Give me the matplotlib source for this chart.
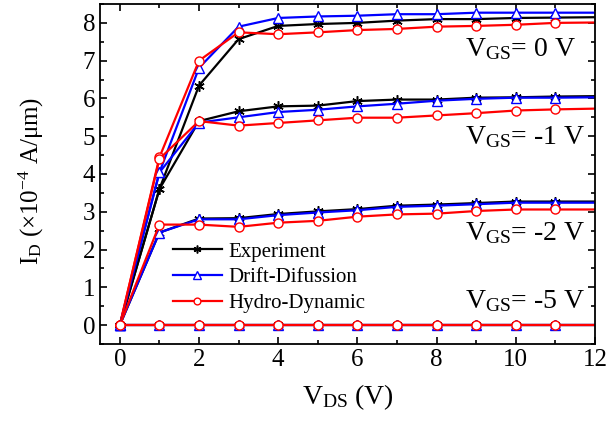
import matplotlib
matplotlib.use("Agg")
import matplotlib.pyplot as plt
from matplotlib.ticker import MultipleLocator

plt.rcParams["font.family"] = ["Liberation Serif", "DejaVu Serif"]
plt.rcParams["mathtext.fontset"] = "custom"
plt.rcParams["mathtext.rm"] = "Liberation Serif"
plt.rcParams["mathtext.it"] = "Liberation Serif:italic"

# Drain voltage (V); lines run to 12 V, markers stop at 11 V
vds = [0, 1, 2, 3, 4, 5, 6, 7, 8, 9, 10, 11, 12]

# Drain current (x1e-4 A/um) for each gate voltage
exp_0 = [0, 3.60, 6.34, 7.57, 7.92, 7.97, 8.00, 8.06, 8.10, 8.10, 8.13, 8.14, 8.15]
dd_0 = [0, 4.04, 6.81, 7.90, 8.13, 8.17, 8.19, 8.23, 8.23, 8.27, 8.27, 8.27, 8.27]
hd_0 = [0, 4.44, 7.00, 7.75, 7.70, 7.75, 7.81, 7.84, 7.90, 7.92, 7.95, 8.00, 8.01]

exp_1 = [0, 3.60, 5.40, 5.66, 5.79, 5.81, 5.93, 5.97, 5.97, 6.02, 6.03, 6.05, 6.06]
dd_1 = [0, 4.04, 5.36, 5.50, 5.64, 5.70, 5.79, 5.86, 5.94, 5.99, 6.02, 6.02, 6.03]
hd_1 = [0, 4.40, 5.40, 5.28, 5.35, 5.42, 5.49, 5.49, 5.55, 5.61, 5.68, 5.71, 5.73]

exp_2 = [0, 2.45, 2.82, 2.83, 2.94, 3.01, 3.07, 3.16, 3.19, 3.23, 3.27, 3.27, 3.27]
dd_2 = [0, 2.45, 2.80, 2.80, 2.91, 2.98, 3.04, 3.13, 3.16, 3.20, 3.24, 3.24, 3.24]
hd_2 = [0, 2.66, 2.66, 2.60, 2.71, 2.76, 2.87, 2.93, 2.95, 3.02, 3.06, 3.06, 3.06]

exp_5 = [0] * 13
dd_5 = [0] * 13
hd_5 = [0] * 13

labels = ["Experiment", "Drift-Difussion", "Hydro-Dynamic"]
vgs_text = [r"V$_\mathregular{GS}$= 0 V", r"V$_\mathregular{GS}$= -1 V",
            r"V$_\mathregular{GS}$= -2 V", r"V$_\mathregular{GS}$= -5 V"]
vgs_text_y = [7.13, 4.80, 2.24, 0.44]

styles = [
    dict(color="black", marker=(6, 2, 0), markersize=7.5, markeredgewidth=1.1),
    dict(color="#0000ff", marker="^", markersize=7, markerfacecolor="white", markeredgewidth=1.0),
    dict(color="#ff0000", marker="o", markersize=6.5, markerfacecolor="white", markeredgewidth=1.0),
]

curves = [
    [exp_0, dd_0, hd_0],
    [exp_1, dd_1, hd_1],
    [exp_2, dd_2, hd_2],
    [exp_5, dd_5, hd_5],
]

fig = plt.figure(figsize=(6.08, 4.21), dpi=100)
ax = fig.add_axes([0.1645, 0.183, 0.8141, 0.8075])

for group in curves:
    for i, ys in enumerate(group):
        ax.plot(vds, ys, linewidth=1.6, markevery=list(range(12)),
                label=labels[i] if group is curves[0] else None, **styles[i])

for txt, ty in zip(vgs_text, vgs_text_y):
    ax.text(8.71, ty, txt, fontsize=20, ha="left", va="baseline")

ax.set_xlim(-0.5, 12)
ax.set_ylim(-0.5, 8.5)
ax.xaxis.set_major_locator(MultipleLocator(2))
ax.xaxis.set_minor_locator(MultipleLocator(1))
ax.yaxis.set_major_locator(MultipleLocator(1))
ax.yaxis.set_minor_locator(MultipleLocator(0.5))
ax.tick_params(which="both", direction="in", top=True, right=True, width=1.2, labelsize=18)
ax.tick_params(which="major", length=5)
ax.tick_params(which="minor", length=3)
for sp in ax.spines.values():
    sp.set_linewidth(1.3)

ax.set_xlabel(r"V$_\mathregular{DS}$ (V)", fontsize=20, labelpad=8)
ax.set_ylabel(r"I$_\mathregular{D}$ (×10$^\mathregular{-4}$ A/μm)", fontsize=18)
ax.yaxis.set_label_coords(-0.110, 0.48)

ax.legend(loc="upper left", bbox_to_anchor=(0.147, 0.30), frameon=False, fontsize=15,
          handlelength=2.35, handletextpad=0.3, labelspacing=0.3, markerscale=0.75,
          borderpad=0, borderaxespad=0)

plt.savefig("out.png", dpi=100)
plt.close()
